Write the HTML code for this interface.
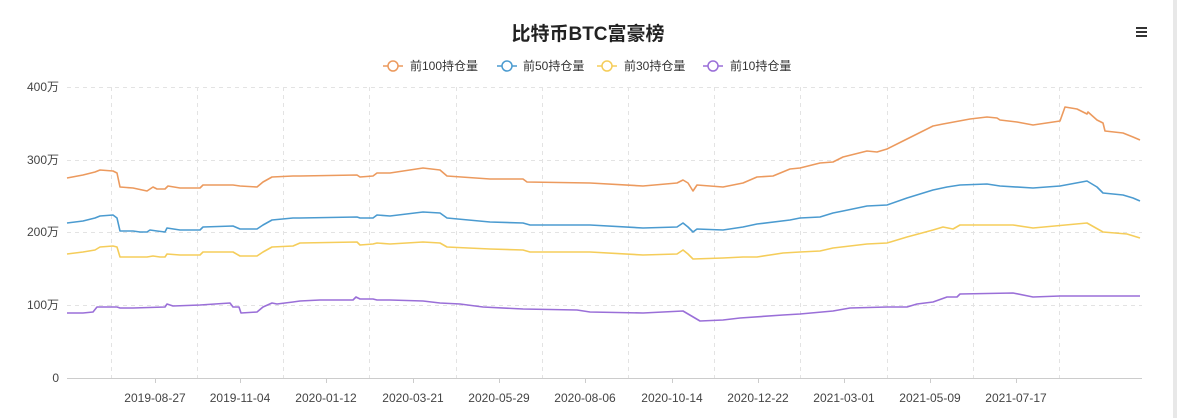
<!DOCTYPE html>
<html><head><meta charset="utf-8"><style>
html,body{margin:0;padding:0;background:#fff;}
svg{display:block;font-family:"Liberation Sans","Noto Sans CJK SC",sans-serif;}
</style></head><body>
<svg width="1177" height="418" viewBox="0 0 1177 418">
<rect x="1173" y="0" width="4" height="418" fill="#e8e8e8"/>
<text x="588" y="40" text-anchor="middle" font-size="19" font-weight="bold" fill="#222">比特币BTC富豪榜</text>
<g fill="#333"><rect x="1136" y="27" width="11" height="2"/><rect x="1136" y="31" width="11" height="2"/><rect x="1136" y="35" width="11" height="2"/></g>
<g font-size="12" fill="#333" stroke-width="1.5">
<line x1="383" y1="66" x2="403" y2="66" stroke="#ec9a5e"/><circle cx="393" cy="66" r="5" fill="#fff" stroke="#ec9a5e"/><text x="410" y="70">前100持仓量</text>
<line x1="497" y1="66" x2="517" y2="66" stroke="#4b9bd0"/><circle cx="507" cy="66" r="5" fill="#fff" stroke="#4b9bd0"/><text x="523" y="70">前50持仓量</text>
<line x1="597" y1="66" x2="617" y2="66" stroke="#f5cd5a"/><circle cx="607" cy="66" r="5" fill="#fff" stroke="#f5cd5a"/><text x="624" y="70">前30持仓量</text>
<line x1="703" y1="66" x2="723" y2="66" stroke="#9a6fd8"/><circle cx="713" cy="66" r="5" fill="#fff" stroke="#9a6fd8"/><text x="730" y="70">前10持仓量</text>
</g>
<g stroke="#e3e3e3" stroke-dasharray="4,4" stroke-width="1">
<line x1="67" y1="87.5" x2="1142" y2="87.5"/><line x1="67" y1="160.5" x2="1142" y2="160.5"/><line x1="67" y1="232.5" x2="1142" y2="232.5"/><line x1="67" y1="305.5" x2="1142" y2="305.5"/>
<line x1="111.5" y1="87" x2="111.5" y2="378"/><line x1="197.5" y1="87" x2="197.5" y2="378"/><line x1="283.5" y1="87" x2="283.5" y2="378"/><line x1="369.5" y1="87" x2="369.5" y2="378"/><line x1="456.5" y1="87" x2="456.5" y2="378"/><line x1="542.5" y1="87" x2="542.5" y2="378"/><line x1="628.5" y1="87" x2="628.5" y2="378"/><line x1="714.5" y1="87" x2="714.5" y2="378"/><line x1="800.5" y1="87" x2="800.5" y2="378"/><line x1="887.5" y1="87" x2="887.5" y2="378"/><line x1="973.5" y1="87" x2="973.5" y2="378"/><line x1="1059.5" y1="87" x2="1059.5" y2="378"/>
</g>
<line x1="67" y1="378.5" x2="1142" y2="378.5" stroke="#ccc"/>
<g stroke="#ccc"><line x1="155.5" y1="378" x2="155.5" y2="383"/><line x1="240.5" y1="378" x2="240.5" y2="383"/><line x1="326.5" y1="378" x2="326.5" y2="383"/><line x1="413.5" y1="378" x2="413.5" y2="383"/><line x1="499.5" y1="378" x2="499.5" y2="383"/><line x1="585.5" y1="378" x2="585.5" y2="383"/><line x1="672.5" y1="378" x2="672.5" y2="383"/><line x1="758.5" y1="378" x2="758.5" y2="383"/><line x1="844.5" y1="378" x2="844.5" y2="383"/><line x1="930.5" y1="378" x2="930.5" y2="383"/><line x1="1016.5" y1="378" x2="1016.5" y2="383"/></g>
<g font-size="12" fill="#444" text-anchor="end">
<text x="59" y="91">400万</text><text x="59" y="164">300万</text><text x="59" y="236">200万</text><text x="59" y="309">100万</text><text x="59" y="382">0</text>
</g>
<g font-size="12" fill="#444" text-anchor="middle">
<text x="155" y="402">2019-08-27</text><text x="240" y="402">2019-11-04</text><text x="326" y="402">2020-01-12</text><text x="413" y="402">2020-03-21</text><text x="499" y="402">2020-05-29</text><text x="585" y="402">2020-08-06</text><text x="672" y="402">2020-10-14</text><text x="758" y="402">2020-12-22</text><text x="844" y="402">2021-03-01</text><text x="930" y="402">2021-05-09</text><text x="1016" y="402">2021-07-17</text>
</g>
<g fill="none" stroke-width="1.6" stroke-linejoin="round">
<polyline stroke="#ec9a5e" points="67,178 83,175 95,172 100,170 113,171 117,173 120,187 133,188 147,191 153,187 157,189 165,189 168,186 180,188 200,188 203,185 233,185 240,186 257,187 263,182 272,177 293,176 300,176 357,175 360,177 373,176 377,173 390,173 423,168 440,170 447,176 490,179 523,179 527,182 590,183 643,186 677,183 683,180 688,183 693,191 697,185 723,187 743,183 757,177 773,176 790,169 800,168 820,163 833,162 843,157 867,151 877,152 887,149 907,139 933,126 943,124 970,119 987,117 997,118 1000,120 1017,122 1033,125 1060,121 1065,107 1077,109 1087,114 1088,112 1097,120 1103,123 1105,131 1123,133 1133,137 1140,140"/>
<polyline stroke="#4b9bd0" points="67,223 83,221 95,218 100,216 113,215 117,218 120,231 133,231 140,232 147,232 150,230 157,231 165,232 167,228 180,230 200,230 203,227 233,226 240,229 257,229 263,225 272,220 293,218 300,218 357,217 360,218 373,218 377,215 390,216 423,212 440,213 447,218 490,222 523,223 530,225 590,225 643,228 677,227 683,223 688,227 693,232 697,229 723,230 743,227 757,224 790,220 800,218 820,217 833,213 843,211 867,206 887,205 907,198 933,190 947,187 960,185 987,184 1000,186 1033,188 1060,186 1087,181 1097,187 1103,193 1123,195 1133,198 1140,201"/>
<polyline stroke="#f5cd5a" points="67,254 83,252 95,250 100,247 113,246 117,247 120,257 133,257 147,257 153,256 160,257 165,257 167,254 180,255 200,255 203,252 233,252 240,256 257,256 263,252 272,247 293,246 300,243 357,242 360,245 373,244 377,243 390,244 423,242 440,243 447,247 490,249 523,250 530,252 590,252 643,255 677,254 683,250 688,254 693,259 723,258 743,257 757,257 783,253 800,252 820,251 833,248 867,244 887,243 907,237 933,230 943,227 953,229 960,225 1013,225 1033,228 1087,223 1103,232 1127,234 1140,238"/>
<polyline stroke="#9a6fd8" points="67,313 83,313 93,312 97,307 117,307 120,308 133,308 165,307 167,304 173,306 200,305 230,303 233,307 239,307 241,313 257,312 263,307 272,303 277,304 293,302 300,301 320,300 353,300 356,297 360,299 373,299 377,300 390,300 423,301 440,303 460,304 483,307 523,309 577,310 590,312 643,313 683,311 700,321 723,320 740,318 783,315 800,314 833,311 850,308 887,307 907,307 917,304 933,302 947,297 957,297 960,294 1013,293 1033,297 1060,296 1140,296"/>
</g>
</svg>
</body></html>
